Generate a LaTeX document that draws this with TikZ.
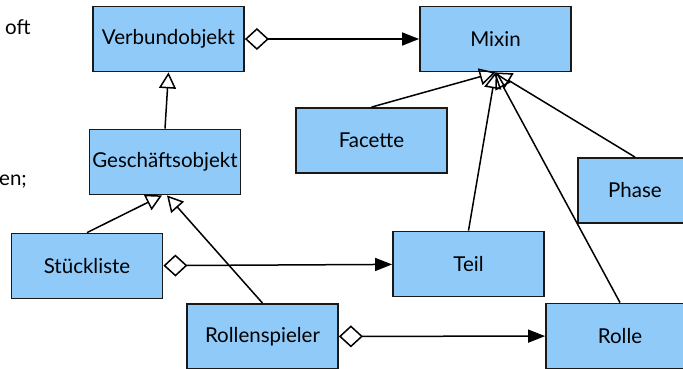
\documentclass[tikz,border=0pt]{standalone}
\usepackage{fontspec}
\setmainfont{Lato}
\usetikzlibrary{arrows.meta}
\definecolor{boxblue}{HTML}{90CAF9}
\begin{document}
\begin{tikzpicture}[x=1pt, y=-1pt,
    box/.style={draw=black!90, fill=boxblue, line width=1.8pt, minimum width=151pt, minimum height=65pt, inner sep=0pt, font=\fontsize{20.5}{22}\selectfont},
    conn/.style={line width=1.5pt},
    inherit/.style={conn, -{Triangle[open, length=16pt, width=17pt]}},
    aggreg/.style={conn, {Diamond[open, length=24pt, width=22pt]}-{Triangle[length=17pt, width=13pt]}}]
    \useasboundingbox (0,0) rectangle (683,369);
    \clip (0,0) rectangle (683,369);
    \node[anchor=base west, font=\fontsize{20.5}{22}\selectfont, inner sep=0pt] (oft) at (5,35) {oft};
    \node[anchor=base west, font=\fontsize{20.5}{22}\selectfont, inner sep=0pt] (en) at (-1,185) {en;};
    \node[box] (verbund) at (168.5,39) {Verbundobjekt};
    \node[box] (mixin) at (495.5,39) {Mixin};
    \node[box] (gesch) at (165,162) {Geschäftsobjekt};
    \node[box] (facette) at (371.5,140.5) {Facette};
    \node[box, minimum width=114pt] (phase) at (635,190.5) {Phase};
    \node[box] (stueck) at (87,266) {Stückliste};
    \node[box] (teil) at (468.5,264) {Teil};
    \node[box] (rollensp) at (262.5,336.5) {Rollenspieler};
    \node[box, minimum width=148pt] (rolle) at (620,336) {Rolle};
    \draw[aggreg] (verbund) -- (mixin);
    \draw[aggreg] (stueck) -- (teil);
    \draw[aggreg] (rollensp) -- (rolle);
    \draw[inherit] (gesch.north) -- (verbund.south);
    \draw[inherit] (stueck.north) -- ([xshift=-3pt]gesch.south);
    \draw[inherit] (rollensp.north) -- ([xshift=2pt]gesch.south);
    \draw[inherit] (facette.north) -- (mixin.south);
    \draw[inherit] (teil.north) -- (mixin.south);
    \draw[inherit] (rolle.north) -- (mixin.south);
    \draw[inherit] (phase.north) -- (mixin.south);
\end{tikzpicture}
\end{document}
